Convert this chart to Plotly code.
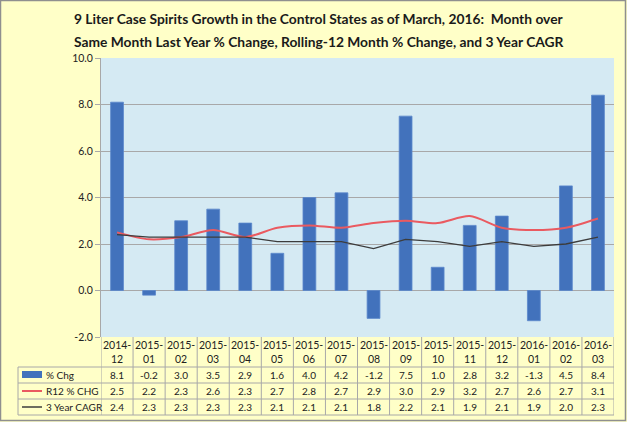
import plotly.graph_objects as go

categories = ["2014-12", "2015-01", "2015-02", "2015-03", "2015-04", "2015-05", "2015-06", "2015-07",
              "2015-08", "2015-09", "2015-10", "2015-11", "2015-12", "2016-01", "2016-02", "2016-03"]
pct_chg = [8.1, -0.2, 3.0, 3.5, 2.9, 1.6, 4.0, 4.2, -1.2, 7.5, 1.0, 2.8, 3.2, -1.3, 4.5, 8.4]
r12_chg = [2.5, 2.2, 2.3, 2.6, 2.3, 2.7, 2.8, 2.7, 2.9, 3.0, 2.9, 3.2, 2.7, 2.6, 2.7, 3.1]
cagr_3y = [2.4, 2.3, 2.3, 2.3, 2.3, 2.1, 2.1, 2.1, 1.8, 2.2, 2.1, 1.9, 2.1, 1.9, 2.0, 2.3]
series_names = ["% Chg", "R12 % CHG", "3 Year CAGR"]
y_ticks = [-2, 0, 2, 4, 6, 8, 10]

W, H = 627, 422
L, R, T, B = 101, 13, 58, 85
PW, PH = W - L - R, H - T - B
FONT = "Lato"
BLUE = "#4272BC"
RED = "#EA5A60"
DARK = "#3C3C3C"
GRID = "#A8A8A8"
TXT = "#222222"
TS = 10

def px(xp):
    return (xp - L) / PW

def py(yp):
    return (H - B - yp) / PH

xs = list(range(len(categories)))
ticktext = [c.replace("-", "-<br>") for c in categories]

fig = go.Figure()
fig.add_trace(go.Bar(x=xs, y=pct_chg, name=series_names[0], marker=dict(color=BLUE, line=dict(color="#5A88CC", width=0.8)), width=0.4))
fig.add_trace(go.Scatter(x=xs, y=r12_chg, name=series_names[1], mode="lines", line=dict(color=RED, width=2, shape="spline", smoothing=0.8)))
fig.add_trace(go.Scatter(x=xs, y=cagr_3y, name=series_names[2], mode="lines", line=dict(color=DARK, width=1.3)))

shapes = []
# outer frame
shapes.append(dict(type="rect", xref="paper", yref="paper", x0=px(0.5), x1=px(W - 1.5), y0=py(H - 1.5), y1=py(0.5),
                   line=dict(color="#8F8F8F", width=1.5), layer="below"))
# table grid
tbl_top, r1, r2, r3, tbl_bot = 337, 367, 383, 399, 415
for yy in [r1, r2, r3, tbl_bot]:
    shapes.append(dict(type="line", xref="paper", yref="paper", x0=px(18), x1=px(L + PW), y0=py(yy), y1=py(yy),
                       line=dict(color=GRID, width=1)))
shapes.append(dict(type="line", xref="paper", yref="paper", x0=px(18), x1=px(18), y0=py(r1), y1=py(tbl_bot),
                   line=dict(color=GRID, width=1)))
for i in range(len(categories) + 1):
    shapes.append(dict(type="line", xref="x", yref="paper", x0=i - 0.5, x1=i - 0.5, y0=py(tbl_top), y1=py(tbl_bot),
                       line=dict(color=GRID, width=1)))
# legend keys
shapes.append(dict(type="rect", xref="paper", yref="paper", x0=px(22), x1=px(42), y0=py(378), y1=py(371),
                   fillcolor=BLUE, line=dict(width=0)))
shapes.append(dict(type="line", xref="paper", yref="paper", x0=px(22), x1=px(42), y0=py(391), y1=py(391),
                   line=dict(color=RED, width=2)))
shapes.append(dict(type="line", xref="paper", yref="paper", x0=px(22), x1=px(42), y0=py(407), y1=py(407),
                   line=dict(color=DARK, width=1.5)))

annotations = []
for name, yy in zip(series_names, [375, 391, 407]):
    annotations.append(dict(x=px(44), y=py(yy), xref="paper", yref="paper", text=name, showarrow=False,
                            xanchor="left", yanchor="middle", font=dict(family=FONT, size=TS, color=TXT)))
for series, yy in zip([pct_chg, r12_chg, cagr_3y], [375, 391, 407]):
    for i, v in enumerate(series):
        annotations.append(dict(x=i, y=py(yy), xref="x", yref="paper", text=f"{v:.1f}", showarrow=False,
                                xanchor="center", yanchor="middle", font=dict(family=FONT, size=TS, color=TXT)))
for i, t in enumerate(ticktext):
    annotations.append(dict(x=i, y=py(352), xref="x", yref="paper", text=t, showarrow=False,
                            xanchor="center", yanchor="middle", font=dict(family=FONT, size=TS + 0.5, color=TXT)))
# title
annotations.append(dict(x=px(72), y=py(19), xref="paper", yref="paper", showarrow=False, xanchor="left", yanchor="middle",
                        text="<b>9 Liter Case Spirits Growth in the Control States as of March, 2016:  Month over</b>",
                        font=dict(family=FONT, size=13.8, color="#1A1A1A")))
annotations.append(dict(x=px(72), y=py(42), xref="paper", yref="paper", showarrow=False, xanchor="left", yanchor="middle",
                        text="<b>Same Month Last Year % Change, Rolling-12 Month % Change, and 3 Year CAGR</b>",
                        font=dict(family=FONT, size=13.8, color="#1A1A1A")))

fig.update_layout(
    width=W, height=H,
    margin=dict(l=L, r=R, t=T, b=B),
    paper_bgcolor="#FFFFC8",
    plot_bgcolor="#D5EAF3",
    showlegend=False,
    shapes=shapes,
    annotations=annotations,
    xaxis=dict(range=[-0.5, len(categories) - 0.5], tickvals=xs, ticktext=ticktext, showticklabels=False,
               showgrid=False, zeroline=False, showline=False, fixedrange=True),
    yaxis=dict(range=[-2, 10], tickvals=y_ticks, ticktext=[f"{v:.1f}" for v in y_ticks],
               showgrid=True, gridcolor=GRID, gridwidth=1, zeroline=True, zerolinecolor=GRID, zerolinewidth=1,
               showline=True, linecolor=GRID, linewidth=1, ticks="outside", ticklen=5, tickcolor=GRID,
               tickfont=dict(family=FONT, size=10.5, color=TXT), fixedrange=True),
    bargap=0.6,
)

fig.write_html("out.html", config={"displayModeBar": False},
               post_script="document.body.style.margin='0';document.body.style.overflow='hidden';")
